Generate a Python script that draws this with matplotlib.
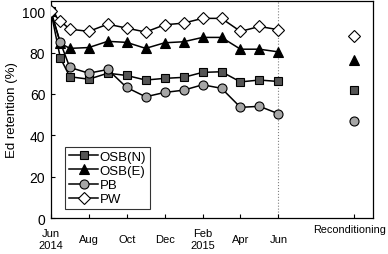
import matplotlib

matplotlib.use("Agg")
import matplotlib.pyplot as plt

plt.rcParams.update({
    "font.family": ["Liberation Sans", "DejaVu Sans"],
    "font.size": 9,
    "axes.linewidth": 0.9,
})

# months after Jun 2014; 16 = reconditioning slot
MONTHS = [0, 0.5, 1, 2, 3, 4, 5, 6, 7, 8, 9, 10, 11, 12]
RECOND_X = 16
OSB_N = [100, 77.4, 68.3, 67.1, 70.0, 68.9, 66.7, 67.5, 68.0, 70.4, 70.7, 65.8, 66.7, 66.0]
OSB_E = [100, 84.5, 82.0, 82.4, 85.4, 84.9, 82.0, 84.7, 85.2, 87.3, 87.3, 81.6, 81.6, 80.3]
PB = [100, 84.9, 72.8, 70.0, 71.8, 63.1, 58.6, 60.7, 61.8, 64.4, 62.7, 53.5, 54.0, 50.4]
PW = [100, 95.2, 91.3, 90.2, 93.7, 91.8, 89.9, 93.4, 94.2, 96.5, 96.5, 90.2, 92.6, 91.0]
RECOND = {"OSB(N)": 62.0, "OSB(E)": 76.3, "PB": 46.9, "PW": 87.8}

TICK_X = [0, 2, 4, 6, 8, 10, 12]
TICK_LABELS = ["Jun\n2014", "Aug", "Oct", "Dec", "Feb\n2015", "Apr", "Jun"]

SERIES = [
    ("OSB(N)", OSB_N, "s", "#555555", 5.5),
    ("OSB(E)", OSB_E, "^", "black", 6.5),
    ("PB", PB, "o", "#a6a6a6", 6.5),
    ("PW", PW, "D", "white", 6.0),
]

fig = plt.figure(figsize=(3.88, 2.55), dpi=100)
ax = fig.add_axes([0.131, 0.141, 0.831, 0.852])

for name, vals, mk, fc, ms in SERIES:
    ax.plot(MONTHS, vals, color="black", lw=1.1, marker=mk, ms=ms,
            mfc=fc, mec="black", mew=0.8, label=name, zorder=3)
    ax.plot([RECOND_X], [RECOND[name]], ls="none", marker=mk, ms=ms,
            mfc=fc, mec="black", mew=0.8, zorder=3)

ax.axvline(12, color="#808080", lw=0.8, ls=":", zorder=1)

ax.set_xlim(0, 17)
ax.set_ylim(0, 105)
ax.set_yticks([0, 20, 40, 60, 80, 100])
ax.tick_params(axis="y", direction="in", labelsize=10, length=3, pad=4)
ax.set_xticks(TICK_X + [RECOND_X])
ax.set_xticklabels(TICK_LABELS + [""], va="center", fontsize=8)
ax.tick_params(axis="x", direction="in", length=3, pad=15)
ax.text(15.75, -0.05, "Reconditioning", transform=ax.get_xaxis_transform(),
        ha="center", va="center", fontsize=7.8)
ax.set_ylabel("Ed retention (%)", fontsize=9.5, labelpad=3)

leg = ax.legend(loc="lower left", bbox_to_anchor=(0.045, 0.04), fontsize=9.5,
                frameon=True, fancybox=False, edgecolor="black",
                handlelength=2.2, handletextpad=0.1, labelspacing=0.15,
                borderpad=0.3, borderaxespad=0)
leg.get_frame().set_linewidth(0.8)

fig.savefig("out.png", dpi=100)
